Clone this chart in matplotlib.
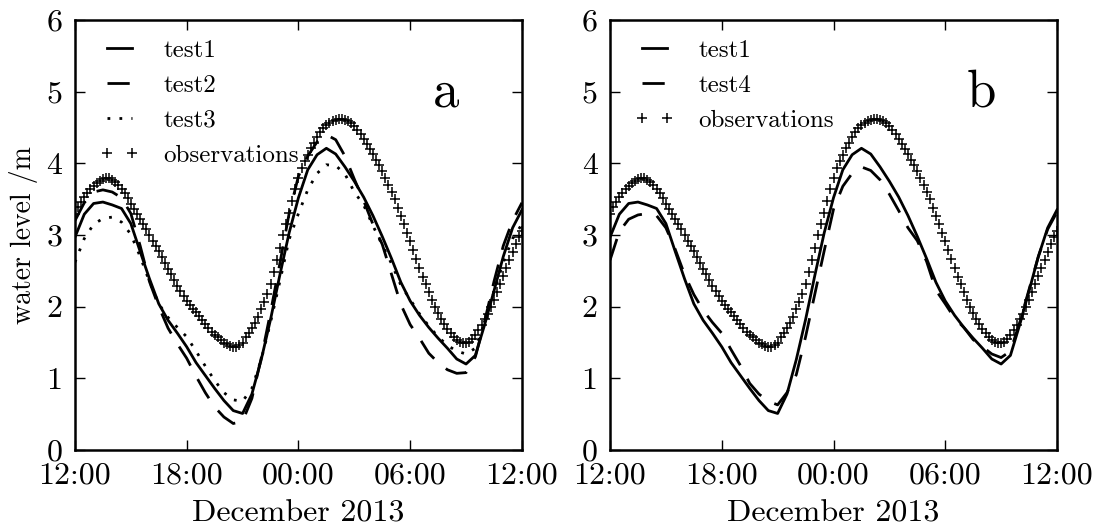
import datetime as dt

import matplotlib
matplotlib.use('Agg')
import matplotlib.pyplot as plt
import matplotlib.dates as mdates
from matplotlib.ticker import FormatStrFormatter

import numpy as np

plt.rcParams['font.family'] = 'cmr10'
plt.rcParams['mathtext.fontset'] = 'cm'
plt.rcParams['axes.unicode_minus'] = False

# observations every 10 min, model output every 30 min (water level in m)
obs_level = [3.30, 3.39, 3.46, 3.53, 3.59, 3.64, 3.69, 3.73, 3.76, 3.78,
             3.79, 3.79, 3.77, 3.74, 3.70, 3.64, 3.58, 3.51, 3.43, 3.36,
             3.29, 3.22, 3.15, 3.08, 3.00, 2.92, 2.85, 2.77, 2.69, 2.61,
             2.53, 2.45, 2.37, 2.29, 2.22, 2.15, 2.08, 2.02, 1.97, 1.92,
             1.87, 1.82, 1.76, 1.70, 1.65, 1.61, 1.57, 1.53, 1.50, 1.48,
             1.45, 1.44, 1.44, 1.46, 1.50, 1.57, 1.63, 1.70, 1.77, 1.86,
             1.97, 2.07, 2.18, 2.32, 2.48, 2.65, 2.82, 3.00, 3.15, 3.31,
             3.48, 3.64, 3.79, 3.93, 4.03, 4.12, 4.21, 4.29, 4.37, 4.44,
             4.49, 4.53, 4.56, 4.59, 4.61, 4.62, 4.62, 4.61, 4.59, 4.56,
             4.52, 4.47, 4.41, 4.34, 4.27, 4.20, 4.13, 4.05, 3.97, 3.89,
             3.80, 3.70, 3.60, 3.50, 3.38, 3.27, 3.15, 3.03, 2.91, 2.79,
             2.67, 2.54, 2.42, 2.31, 2.20, 2.10, 2.00, 1.91, 1.83, 1.76,
             1.69, 1.63, 1.58, 1.54, 1.51, 1.50, 1.49, 1.51, 1.55, 1.61,
             1.68, 1.75, 1.83, 1.90, 2.00, 2.10, 2.21, 2.32, 2.43, 2.54,
             2.65, 2.76, 2.87, 2.97, 3.06]

test1 = [2.97, 3.29, 3.44, 3.46, 3.42, 3.37, 3.16, 2.77, 2.39, 2.04,
         1.81, 1.63, 1.44, 1.22, 1.04, 0.86, 0.69, 0.55, 0.51, 0.78,
         1.26, 1.82, 2.44, 3.03, 3.52, 3.91, 4.12, 4.21, 4.13, 3.95,
         3.75, 3.53, 3.27, 2.98, 2.67, 2.34, 2.08, 1.88, 1.71, 1.56,
         1.42, 1.27, 1.20, 1.32, 1.75, 2.22, 2.70, 3.10, 3.35]

test2 = [3.20, 3.45, 3.60, 3.63, 3.60, 3.52, 3.30, 2.85, 2.35, 2.00,
         1.70, 1.48, 1.28, 1.03, 0.80, 0.60, 0.46, 0.37, 0.40, 0.72,
         1.28, 1.92, 2.60, 3.30, 3.82, 4.10, 4.30, 4.40, 4.33, 4.10,
         3.78, 3.48, 3.15, 2.87, 2.45, 2.03, 1.75, 1.56, 1.35, 1.22,
         1.12, 1.07, 1.08, 1.30, 1.80, 2.35, 2.85, 3.20, 3.45]

test3 = [2.62, 2.95, 3.15, 3.23, 3.25, 3.18, 3.01, 2.70, 2.35, 2.04,
         1.85, 1.71, 1.58, 1.38, 1.17, 0.97, 0.80, 0.70, 0.68, 0.86,
         1.26, 1.78, 2.35, 2.94, 3.30, 3.63, 3.86, 3.98, 3.97, 3.85,
         3.60, 3.42, 3.13, 2.86, 2.60, 2.30, 2.10, 1.90, 1.73, 1.58,
         1.46, 1.38, 1.34, 1.42, 1.78, 2.20, 2.62, 2.95, 3.15]

test4 = [2.65, 3.05, 3.22, 3.28, 3.30, 3.27, 3.10, 2.80, 2.45, 2.17,
         1.95, 1.78, 1.63, 1.40, 1.18, 0.93, 0.78, 0.68, 0.63, 0.80,
         1.05, 1.58, 2.18, 2.78, 3.36, 3.68, 3.86, 3.95, 3.90, 3.77,
         3.57, 3.34, 3.10, 2.92, 2.63, 2.23, 2.04, 1.84, 1.71, 1.54,
         1.44, 1.34, 1.29, 1.38, 1.78, 2.24, 2.70, 3.08, 3.32]

start = dt.datetime(2013, 12, 5, 12, 0)
end = start + dt.timedelta(hours=24)
obs_time = [start + dt.timedelta(minutes=10 * i) for i in range(len(obs_level))]
model_time = [start + dt.timedelta(minutes=30 * i) for i in range(len(test1))]

fig = plt.figure(figsize=(10.96, 5.32), dpi=100)
ax_a = fig.add_axes([0.0684, 0.1541, 0.4078, 0.8083])
ax_b = fig.add_axes([0.5566, 0.1541, 0.4078, 0.8083])

dash = (0, (8, 5.5))
dot = (0, (1, 3.3))

ax_a.plot(model_time, test1, color='k', lw=2, label='test1')
ax_a.plot(model_time, test2, color='k', lw=2, linestyle=dash, label='test2')
ax_a.plot(model_time, test3, color='k', lw=2, linestyle=dot, label='test3')
ax_a.plot(obs_time, obs_level, 'k+', ms=7, mew=1.1, label='observations')

ax_b.plot(model_time, test1, color='k', lw=2, label='test1')
ax_b.plot(model_time, test4, color='k', lw=2, linestyle=dash, label='test4')
ax_b.plot(obs_time, obs_level, 'k+', ms=7, mew=1.1, label='observations')

for ax, letter in [(ax_a, 'a'), (ax_b, 'b')]:
    ax.set_xlim(start, end)
    ax.set_ylim(0, 6)
    ax.xaxis.set_major_locator(mdates.HourLocator(byhour=[0, 6, 12, 18]))
    ax.xaxis.set_major_formatter(mdates.DateFormatter('%H:%M'))
    ax.yaxis.set_major_formatter(FormatStrFormatter('%d'))
    ax.tick_params(direction='in', top=True, right=True, length=7, width=1,
                   labelsize=23)
    ax.tick_params(axis='x', pad=9)
    ax.tick_params(axis='y', pad=9)
    for sp in ax.spines.values():
        sp.set_linewidth(1.8)
    ax.set_xlabel('December 2013', fontsize=23, labelpad=7.5)
    ax.text(0.83, 0.8, letter, transform=ax.transAxes, fontsize=38,
            ha='center', va='baseline')
    ax.legend(loc='upper left', bbox_to_anchor=(0.055, 0.955), borderaxespad=0,
              borderpad=0, frameon=False, numpoints=2, fontsize=18,
              handlelength=1.6, handletextpad=0.95, labelspacing=0.5)

ax_a.set_ylabel('water level /m', fontsize=20, labelpad=6)

plt.savefig('out.png', dpi=100)
